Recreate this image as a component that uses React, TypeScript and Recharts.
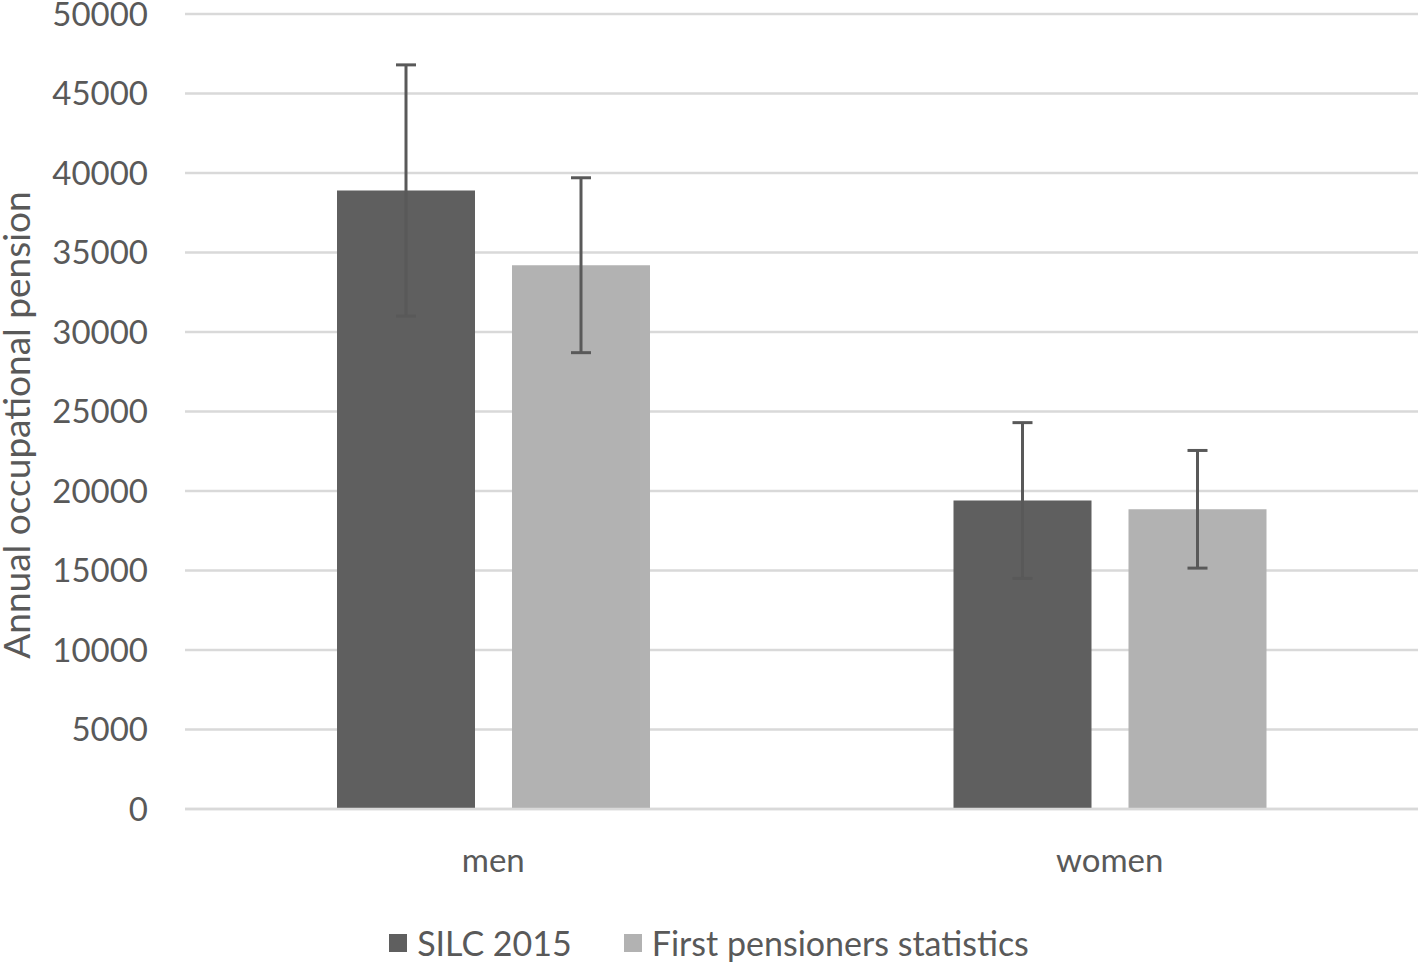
import {
  Bar,
  BarChart,
  CartesianGrid,
  ErrorBar,
  Legend,
  XAxis,
  YAxis,
} from "recharts";

const categories = ["men", "women"];
const silc2015 = [38900, 19400];
const silc2015Err = [7900, 4900];
const firstPensioners = [34200, 18850];
const firstPensionersErr = [5500, 3700];
const yTicks = [0, 5000, 10000, 15000, 20000, 25000, 30000, 35000, 40000, 45000, 50000];

const DARK = "#5f5f5f";
const LIGHT = "#b2b2b2";
const TEXT = "#595959";
const GRID = "#d9d9d9";
const FONT = "Lato, 'Open Sans', sans-serif";

const data = categories.map((c, i) => ({
  cat: c,
  silc: silc2015[i],
  silcErr: silc2015Err[i],
  first: firstPensioners[i],
  firstErr: firstPensionersErr[i],
}));

const legendItems = [
  { name: "SILC 2015", color: DARK },
  { name: "First pensioners statistics", color: LIGHT },
];

const LegendBox = () => (
  <div
    style={{
      height: 53,
      paddingTop: 15,
      boxSizing: "border-box",
      display: "flex",
      justifyContent: "center",
      gap: 52,
      fontFamily: FONT,
      fontSize: 34,
      color: TEXT,
      lineHeight: "36px",
    }}
  >
    {legendItems.map((it) => (
      <div key={it.name} style={{ display: "flex", alignItems: "center" }}>
        <span
          style={{
            display: "inline-block",
            width: 18,
            height: 18,
            background: it.color,
            marginRight: 10,
          }}
        />
        <span>{it.name}</span>
      </div>
    ))}
  </div>
);

const YLabel = () => (
  <text
    x={30}
    y={425}
    transform="rotate(-90, 30, 425)"
    textAnchor="middle"
    fill={TEXT}
    fontSize={37}
    fontFamily={FONT}
  >
    Annual occupational pension
  </text>
);

export default function App() {
  return (
    <div style={{ position: "absolute", left: 0, top: 0, width: 1418, height: 962, background: "#fff" }}>
      <BarChart
        width={1418}
        height={962}
        data={data}
        margin={{ top: 14, right: 0, left: 0, bottom: 0 }}
        barSize={138}
        barGap={37}
        style={{ fontFamily: FONT }}
      >
        <CartesianGrid vertical={false} stroke={GRID} strokeWidth={2.5} />
        <XAxis
          dataKey="cat"
          height={100}
          tickLine={false}
          axisLine={{ stroke: GRID, strokeWidth: 2.5 }}
          tickSize={6}
          tickMargin={34}
          tick={{ fill: TEXT, fontSize: 33, fontFamily: FONT }}
        />
        <YAxis
          width={185}
          domain={[0, 50000]}
          ticks={yTicks}
          interval={0}
          axisLine={false}
          tickLine={false}
          tickSize={6}
          tickMargin={31}
          tick={{ fill: TEXT, fontSize: 33, fontFamily: FONT }}
          label={<YLabel />}
        />
        <Legend verticalAlign="bottom" content={<LegendBox />} />
        <Bar dataKey="silc" name="SILC 2015" fill={DARK} isAnimationActive={false}>
          <ErrorBar dataKey="silcErr" width={10} stroke={TEXT} strokeWidth={3} isAnimationActive={false} />
        </Bar>
        <Bar dataKey="first" name="First pensioners statistics" fill={LIGHT} isAnimationActive={false}>
          <ErrorBar dataKey="firstErr" width={10} stroke={TEXT} strokeWidth={3} isAnimationActive={false} />
        </Bar>
      </BarChart>
    </div>
  );
}
